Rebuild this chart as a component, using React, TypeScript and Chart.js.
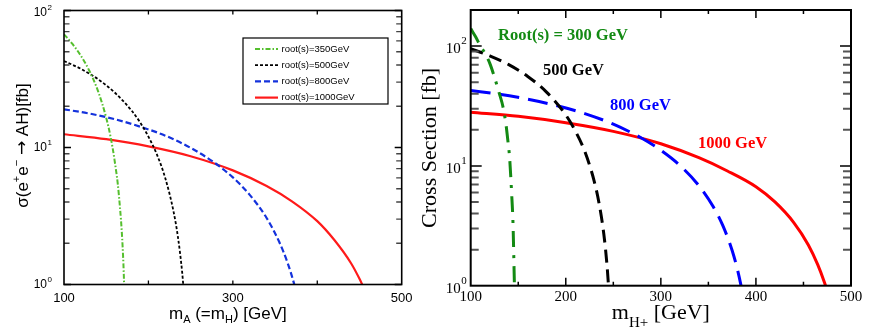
import React, { useEffect, useRef } from 'react';
import { Chart, registerables } from 'chart.js';

Chart.register(...registerables);

// ---------------- Left panel: sigma(e+e- -> AH) vs m_A ----------------
const leftMass350 = [100, 110, 120, 130, 140, 150, 155, 160, 165, 170, 173];
const leftSigma350 = [67, 57, 46.7, 36.3, 26.1, 16.5, 12.1, 8.0, 4.5, 1.6, 0.45];

const leftMass500 = [100, 120, 140, 160, 180, 190, 200, 210, 220, 230, 235, 240, 243];
const leftSigma500 = [42.8, 37.5, 31.6, 25.2, 18.6, 15.3, 12.0, 8.9, 5.96, 3.35, 2.21, 1.22, 0.72];

const leftMass800 = [100, 130, 160, 190, 220, 250, 280, 300, 320, 340, 355, 365, 372, 376];
const leftSigma800 = [19.0, 17.7, 16.1, 14.2, 12.2, 9.94, 7.61, 6.05, 4.51, 3.06, 2.04, 1.43, 1.04, 0.83];

const leftMass1000 = [100, 150, 200, 250, 300, 340, 370, 400, 420, 440, 450, 458];
const leftSigma1000 = [12.5, 11.5, 10.2, 8.64, 6.81, 5.24, 4.05, 2.9, 2.12, 1.43, 1.10, 0.86];

const leftLabels = ['root(s)=350GeV', 'root(s)=500GeV', 'root(s)=800GeV', 'root(s)=1000GeV'];
const leftXMin = 100;
const leftXMax = 500;
const leftYMin = 1;
const leftYMax = 100;
const leftXTicks = [200, 300, 400];
const leftXTickLabels = [100, 300, 500];
const leftYDecades = [0, 1, 2];

// ---------------- Right panel: cross section vs m_H+ ----------------
const rightMass300 = [100, 105, 110, 115, 120, 125, 130, 134, 137, 139, 141, 143, 144.5, 146, 147];
const rightSigma300 = [140, 120, 101, 87, 72, 55, 40.5, 31, 22.5, 16.5, 11.5, 6.0, 3.3, 1.0, 0.5];

const rightMass500 = [100, 120, 140, 160, 180, 200, 210, 220, 230, 235, 240, 243, 245, 247];
const rightSigma500 = [95, 83, 70, 55.8, 41.1, 26.6, 19.6, 13.2, 7.4, 4.88, 2.7, 1.6, 0.97, 0.45];

const rightMass800 = [100, 130, 160, 190, 220, 250, 280, 300, 320, 340, 355, 365, 375, 380, 384, 387];
const rightSigma800 = [42.5, 39.6, 36.0, 31.9, 27.3, 22.3, 17.0, 13.5, 10.1, 6.84, 4.58, 3.2, 1.97, 1.42, 1.03, 0.76];

const rightMass1000 = [100, 150, 200, 250, 300, 340, 370, 400, 420, 440, 455, 465, 472, 476];
const rightSigma1000 = [28.0, 25.9, 22.9, 19.4, 15.3, 11.7, 9.07, 6.7, 5.0, 3.35, 2.2, 1.5, 1.07, 0.85];

const rightLabels = ['Root(s) = 300 GeV', '500 GeV', '800 GeV', '1000 GeV'];
// annotation anchor values (mass, cross section) for each curve label
const rightLabelMass = [128.7, 176, 246.5, 339];
const rightLabelSigma = [112, 56.9, 29.0, 14.2];
const rightXMin = 100;
const rightXMax = 500;
const rightYMin = 1;
const rightYMax = 200;
const rightXMajor = [200, 300, 400];
const rightXMinor = [150, 250, 350, 450];
const rightXTickLabels = [100, 200, 300, 400, 500];
const rightYDecades = [0, 1, 2];

// ---------------- styles ----------------
const leftStyles = [
  { color: '#55bf2e', width: 2, dash: [5, 2, 1.5, 2] },
  { color: '#000000', width: 1.8, dash: [3, 2] },
  { color: '#1432dc', width: 2.2, dash: [6, 3] },
  { color: '#ff1a1a', width: 2.2, dash: [] as number[] },
];
const rightStyles = [
  { color: '#138a13', width: 3, dash: [16, 8, 3, 8] },
  { color: '#000000', width: 3, dash: [13, 7] },
  { color: '#0000ff', width: 3, dash: [20, 9] },
  { color: '#ff0000', width: 3, dash: [] as number[] },
];

const SANS = '"Liberation Sans", Arial, sans-serif';
const SERIF = '"Liberation Serif", "Times New Roman", serif';

type Piece = { t: string; font: string; dy?: number };

function drawRich(ctx: CanvasRenderingContext2D, pieces: Piece[], x: number, y: number, align: 'left' | 'center' | 'right') {
  const widths = pieces.map((p) => {
    ctx.font = p.font;
    return ctx.measureText(p.t).width;
  });
  const total = widths.reduce((s, w) => s + w, 0);
  let cx = align === 'center' ? x - total / 2 : align === 'right' ? x - total : x;
  ctx.textAlign = 'left';
  pieces.forEach((p, i) => {
    ctx.font = p.font;
    ctx.fillText(p.t, cx, y + (p.dy || 0));
    cx += widths[i];
  });
}

function makeDatasets(xsList: number[][], ysList: number[][], labels: string[], styles: any[]) {
  return xsList.map((xs, i) => ({
    label: labels[i],
    data: xs.map((x, j) => ({ x, y: ysList[i][j] })),
    borderColor: styles[i].color,
    backgroundColor: styles[i].color,
    borderWidth: styles[i].width,
    borderDash: styles[i].dash,
    pointRadius: 0,
    fill: false,
    cubicInterpolationMode: 'monotone' as const,
    clip: 0,
  }));
}

function hiddenScales(xMin: number, xMax: number, yMin: number, yMax: number) {
  const common = {
    display: true,
    grid: { display: false, drawTicks: false },
    border: { display: false },
    ticks: { display: false },
  };
  return {
    x: { ...common, type: 'linear' as const, min: xMin, max: xMax, afterFit: (s: any) => { s.height = 0; } },
    y: { ...common, type: 'logarithmic' as const, min: yMin, max: yMax, afterFit: (s: any) => { s.width = 0; } },
  };
}

const leftDecor = {
  id: 'leftDecor',
  afterDraw(chart: any) {
    const { ctx, chartArea: a, scales } = chart;
    const xs = scales.x;
    const ys = scales.y;
    ctx.save();
    ctx.setLineDash([]);
    // y ticks (both sides, inward)
    leftYDecades.forEach((d) => {
      for (let k = 1; k <= 9; k++) {
        const v = k * Math.pow(10, d);
        if (v < leftYMin || v > leftYMax) continue;
        const py = ys.getPixelForValue(v);
        const len = k === 1 ? 7 : 5.5;
        ctx.strokeStyle = k === 1 ? '#000' : '#444';
        ctx.lineWidth = 1.3;
        ctx.beginPath();
        ctx.moveTo(a.left, py);
        ctx.lineTo(a.left + len, py);
        ctx.moveTo(a.right, py);
        ctx.lineTo(a.right - len, py);
        ctx.stroke();
      }
    });
    // x ticks
    ctx.strokeStyle = '#000';
    ctx.lineWidth = 1.3;
    leftXTicks.forEach((v) => {
      const px = xs.getPixelForValue(v);
      ctx.beginPath();
      ctx.moveTo(px, a.bottom);
      ctx.lineTo(px, a.bottom - 4);
      ctx.moveTo(px, a.top);
      ctx.lineTo(px, a.top + 4);
      ctx.stroke();
    });
    // frame
    ctx.lineWidth = 1.6;
    ctx.strokeStyle = '#000';
    ctx.strokeRect(a.left, a.top, a.right - a.left, a.bottom - a.top);

    ctx.fillStyle = '#000';
    // x tick labels
    ctx.textBaseline = 'alphabetic';
    leftXTickLabels.forEach((v) => {
      drawRich(ctx, [{ t: String(v), font: `13px ${SANS}` }], xs.getPixelForValue(v), a.bottom + 17, 'center');
    });
    // y tick labels 10^n
    ctx.textBaseline = 'middle';
    leftYDecades.forEach((d) => {
      const py = Math.max(ys.getPixelForValue(Math.pow(10, d)), a.top + 2);
      ctx.font = `12px ${SANS}`;
      ctx.textAlign = 'right';
      ctx.fillText('10', a.left - 17, py);
      ctx.font = `8px ${SANS}`;
      ctx.textAlign = 'left';
      ctx.fillText(String(d), a.left - 16.5, py - 5);
    });
    // x title
    ctx.textBaseline = 'alphabetic';
    const f = `17px ${SANS}`;
    const fs = `11px ${SANS}`;
    drawRich(ctx, [
      { t: 'm', font: f },
      { t: 'A', font: fs, dy: 4 },
      { t: ' (=m', font: f },
      { t: 'H', font: fs, dy: 4 },
      { t: ') [GeV]', font: f },
    ], (a.left + a.right) / 2 - 5, a.bottom + 34, 'center');
    // y title
    ctx.save();
    ctx.translate(23, (a.top + a.bottom) / 2 - 2);
    ctx.rotate(-Math.PI / 2);
    ctx.textBaseline = 'middle';
    drawRich(ctx, [
      { t: 'σ(e', font: f },
      { t: '+', font: fs, dy: -6 },
      { t: 'e', font: f },
      { t: '−', font: fs, dy: -6 },
      { t: ' ', font: f },
      { t: '→', font: `17px "DejaVu Sans", ${SANS}` },
      { t: ' AH)[fb]', font: f },
    ], 0, 0, 'center');
    ctx.restore();

    // legend box
    const bx = a.left + 179;
    const by = a.top + 27.5;
    const bw = 145;
    const bh = 66;
    ctx.fillStyle = '#fff';
    ctx.fillRect(bx, by, bw, bh);
    ctx.strokeStyle = '#000';
    ctx.lineWidth = 1.2;
    ctx.strokeRect(bx, by, bw, bh);
    chart.data.datasets.forEach((ds: any, i: number) => {
      const ly = by + 11 + i * 16.2;
      ctx.strokeStyle = ds.borderColor;
      ctx.lineWidth = ds.borderWidth;
      ctx.setLineDash(ds.borderDash || []);
      ctx.beginPath();
      ctx.moveTo(bx + 12, ly);
      ctx.lineTo(bx + 35, ly);
      ctx.stroke();
      ctx.setLineDash([]);
      ctx.fillStyle = '#000';
      ctx.font = `9.5px ${SANS}`;
      ctx.textAlign = 'left';
      ctx.textBaseline = 'middle';
      ctx.fillText(ds.label, bx + 38.5, ly);
    });
    ctx.restore();
  },
};

const rightDecor = {
  id: 'rightDecor',
  afterDraw(chart: any) {
    const { ctx, chartArea: a, scales } = chart;
    const xs = scales.x;
    const ys = scales.y;
    ctx.save();
    ctx.setLineDash([]);
    // y ticks both sides
    rightYDecades.forEach((d) => {
      for (let k = 1; k <= 9; k++) {
        const v = k * Math.pow(10, d);
        if (v <= rightYMin || v > rightYMax) continue;
        const py = ys.getPixelForValue(v);
        const major = k === 1;
        const len = major ? 11 : 8;
        ctx.strokeStyle = major ? '#000' : '#555';
        ctx.lineWidth = major ? 1.5 : 2;
        ctx.beginPath();
        ctx.moveTo(a.left, py);
        ctx.lineTo(a.left + len, py);
        ctx.moveTo(a.right, py);
        ctx.lineTo(a.right - len, py);
        ctx.stroke();
      }
    });
    // x ticks
    ctx.strokeStyle = '#000';
    ctx.lineWidth = 1.5;
    rightXMajor.forEach((v) => {
      const px = xs.getPixelForValue(v);
      ctx.beginPath();
      ctx.moveTo(px, a.bottom);
      ctx.lineTo(px, a.bottom - 8);
      ctx.moveTo(px, a.top);
      ctx.lineTo(px, a.top + 8);
      ctx.stroke();
    });
    rightXMinor.forEach((v) => {
      const px = xs.getPixelForValue(v);
      ctx.beginPath();
      ctx.moveTo(px, a.bottom);
      ctx.lineTo(px, a.bottom - 4);
      ctx.moveTo(px, a.top);
      ctx.lineTo(px, a.top + 4);
      ctx.stroke();
    });
    // frame
    ctx.lineWidth = 2;
    ctx.strokeRect(a.left, a.top, a.right - a.left, a.bottom - a.top);

    ctx.fillStyle = '#000';
    ctx.textBaseline = 'alphabetic';
    rightXTickLabels.forEach((v) => {
      drawRich(ctx, [{ t: String(v), font: `15px ${SERIF}` }], xs.getPixelForValue(v), a.bottom + 15, 'center');
    });
    ctx.textBaseline = 'middle';
    rightYDecades.forEach((d) => {
      const py = ys.getPixelForValue(Math.pow(10, d)) + 3;
      ctx.font = `15px ${SERIF}`;
      ctx.textAlign = 'right';
      ctx.fillText('10', a.left - 10, py);
      ctx.font = `11px ${SERIF}`;
      ctx.textAlign = 'left';
      ctx.fillText(String(d), a.left - 9.5, py - 8);
    });
    // x title
    ctx.textBaseline = 'alphabetic';
    drawRich(ctx, [
      { t: 'm', font: `22px ${SERIF}` },
      { t: 'H+', font: `15px ${SERIF}`, dy: 8 },
      { t: ' [GeV]', font: `22px ${SERIF}` },
    ], (a.left + a.right) / 2, a.bottom + 33, 'center');
    // y title
    ctx.save();
    ctx.translate(15, (a.top + a.bottom) / 2);
    ctx.rotate(-Math.PI / 2);
    ctx.textBaseline = 'middle';
    drawRich(ctx, [{ t: 'Cross Section [fb]', font: `22px ${SERIF}` }], 0, 0, 'center');
    ctx.restore();

    // curve labels
    ctx.textBaseline = 'alphabetic';
    chart.data.datasets.forEach((ds: any, i: number) => {
      ctx.fillStyle = ds.borderColor;
      drawRich(ctx, [{ t: ds.label, font: `bold 16.5px ${SERIF}` }],
        xs.getPixelForValue(rightLabelMass[i]), ys.getPixelForValue(rightLabelSigma[i]), 'left');
    });
    ctx.restore();
  },
};

function Panel(props: { kind: 'left' | 'right'; left: number; width: number }) {
  const ref = useRef<HTMLCanvasElement | null>(null);
  useEffect(() => {
    if (!ref.current) return;
    const isLeft = props.kind === 'left';
    const datasets = isLeft
      ? makeDatasets([leftMass350, leftMass500, leftMass800, leftMass1000],
          [leftSigma350, leftSigma500, leftSigma800, leftSigma1000], leftLabels, leftStyles)
      : makeDatasets([rightMass300, rightMass500, rightMass800, rightMass1000],
          [rightSigma300, rightSigma500, rightSigma800, rightSigma1000], rightLabels, rightStyles);
    const padding = isLeft
      ? { left: 64, right: props.width - 401.7, top: 10.5, bottom: 334 - 284.5 }
      : { left: 470.7 - props.left, right: props.width - (851 - props.left), top: 10, bottom: 334 - 285.7 };
    const scales = isLeft
      ? hiddenScales(leftXMin, leftXMax, leftYMin, leftYMax)
      : hiddenScales(rightXMin, rightXMax, rightYMin, rightYMax);
    const chart = new Chart(ref.current, {
      type: 'line',
      data: { datasets: datasets as any },
      options: {
        responsive: false,
        maintainAspectRatio: false,
        animation: false,
        layout: { padding },
        plugins: { legend: { display: false }, tooltip: { enabled: false }, title: { display: false } },
        scales: scales as any,
        elements: { line: { tension: 0 } },
      },
      plugins: [isLeft ? leftDecor : rightDecor],
    } as any);
    return () => chart.destroy();
  }, []);
  return (
    <canvas
      ref={ref}
      width={props.width}
      height={334}
      style={{ position: 'absolute', left: props.left, top: 0, width: props.width, height: 334 }}
    />
  );
}

export default function App() {
  return (
    <div style={{ position: 'fixed', left: 0, top: 0, width: 887, height: 334, background: '#fff', overflow: 'hidden' }}>
      <Panel kind="left" left={0} width={415} />
      <Panel kind="right" left={415} width={472} />
    </div>
  );
}
